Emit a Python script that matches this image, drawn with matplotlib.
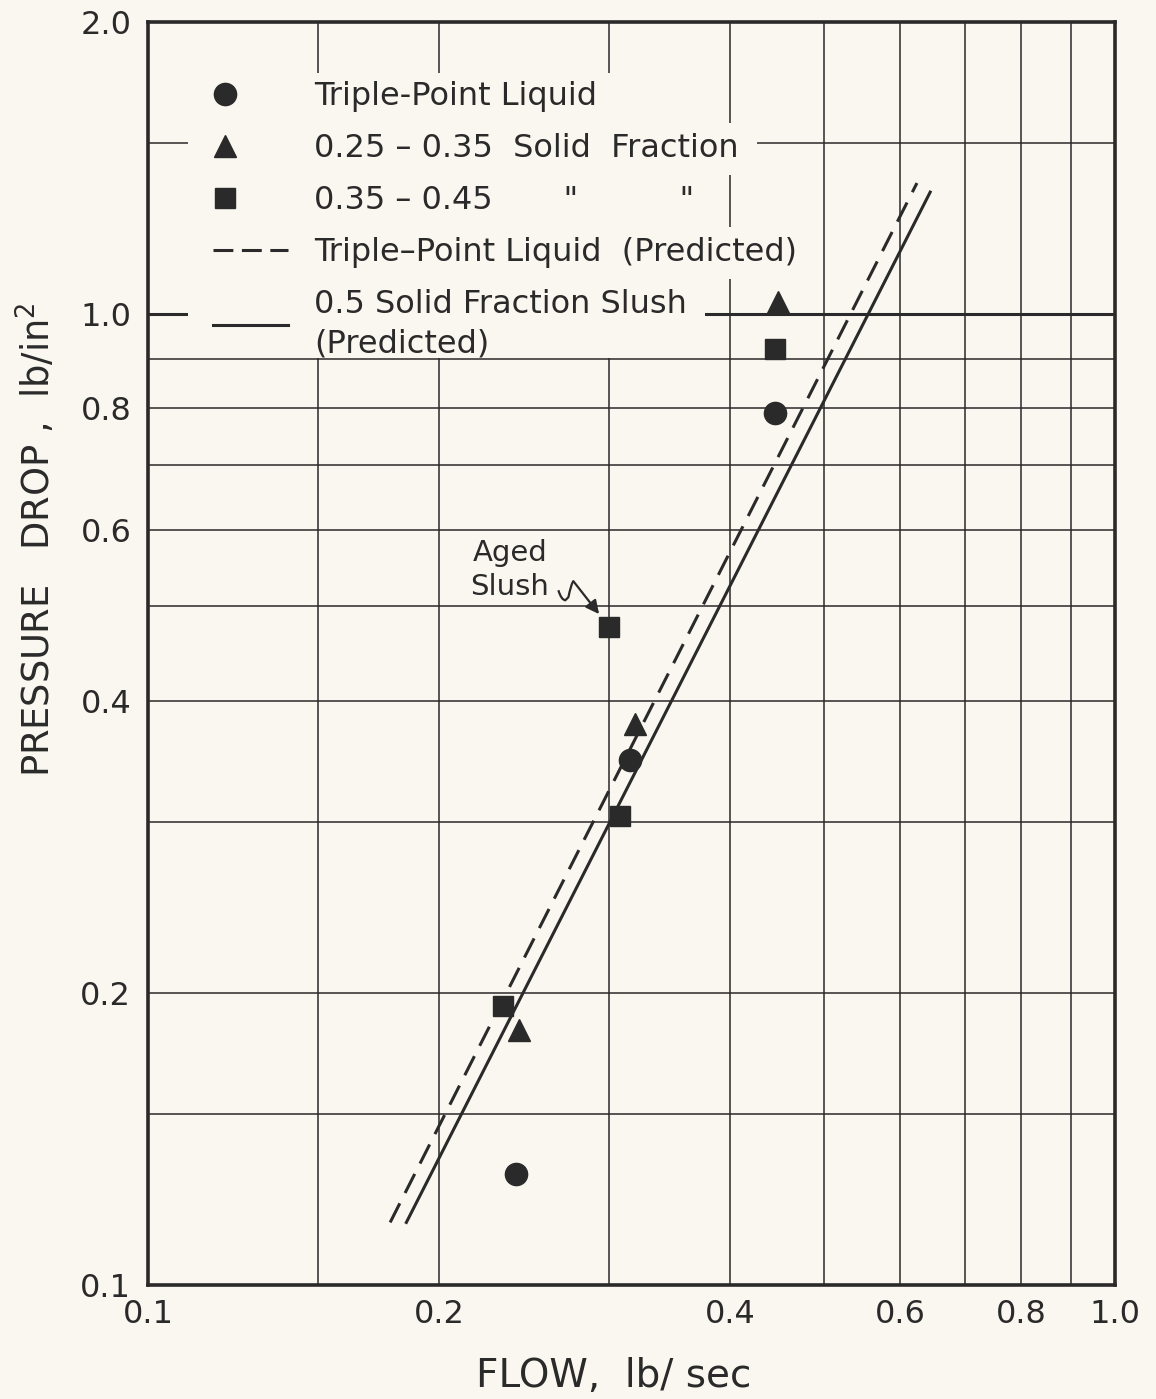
import matplotlib
matplotlib.use("Agg")
import matplotlib.pyplot as plt
from matplotlib.lines import Line2D
from matplotlib.patches import Rectangle, PathPatch
from matplotlib.path import Path
from matplotlib.transforms import IdentityTransform, Affine2D
from matplotlib.legend_handler import HandlerLine2D
from matplotlib.ticker import FixedLocator, FixedFormatter, NullLocator

plt.rcParams['font.family'] = ['DejaVu Sans']

INK = '#2a2a2a'
PAPER = '#f9f7ef'

# Measured points: flow (lb/sec) and pressure drop (lb/in^2)
tpl_flow = [0.240, 0.315, 0.445]
tpl_dp = [0.130, 0.347, 0.791]
sf25_flow = [0.242, 0.319, 0.448]
sf25_dp = [0.183, 0.378, 1.03]
sf35_flow = [0.233, 0.308, 0.300, 0.445]
sf35_dp = [0.194, 0.304, 0.476, 0.921]

# Predicted curves (straight lines on log-log paper, end points)
tpl_pred_flow = [0.178, 0.624]
tpl_pred_dp = [0.116, 1.365]
slush_pred_flow = [0.185, 0.644]
slush_pred_dp = [0.116, 1.336]

# Aged slush point called out separately
aged_flow = 0.300
aged_dp = 0.476

x_grid = [0.15, 0.2, 0.3, 0.4, 0.5, 0.6, 0.7, 0.8, 0.9]
y_grid = [0.15, 0.2, 0.3, 0.4, 0.5, 0.6, 0.7, 0.8, 0.9, 1.5]
y_major = 1.0
x_ticks = [0.1, 0.2, 0.4, 0.6, 0.8, 1.0]
x_tick_labels = ['0.1', '0.2', '0.4', '0.6', '0.8', '1.0']
y_ticks = [0.1, 0.2, 0.4, 0.6, 0.8, 1.0, 2.0]
y_tick_labels = ['0.1', '0.2', '0.4', '0.6', '0.8', '1.0', '2.0']

legend_labels = [
    'Triple-Point Liquid',
    '0.25 \u2013 0.35  Solid  Fraction',
    '0.35 \u2013 0.45       "          "',
    'Triple\u2013Point Liquid  (Predicted)',
    '0.5 Solid Fraction Slush\n(Predicted)',
]

fig = plt.figure(figsize=(11.56, 13.99), dpi=100, facecolor=PAPER)
ax = fig.add_axes([148 / 1156, 1 - 1285 / 1399, (1115 - 148) / 1156, (1285 - 22) / 1399])
ax.set_facecolor(PAPER)
ax.set_xscale('log')
ax.set_yscale('log')
ax.set_xlim(0.1, 1.0)
ax.set_ylim(0.1, 2.0)

# grid
for xv in x_grid:
    ax.axvline(xv, color=INK, lw=1.1, zorder=1)
for yv in y_grid:
    ax.axhline(yv, color=INK, lw=1.1, zorder=1)
ax.axhline(y_major, color=INK, lw=2.2, zorder=1)

# predicted lines
ax.plot(tpl_pred_flow, tpl_pred_dp, color=INK, lw=2.2, ls=(0, (7.0, 3.8)), zorder=3)
ax.plot(slush_pred_flow, slush_pred_dp, color=INK, lw=2.2, ls='-', zorder=3)

# measured points
ax.plot(tpl_flow, tpl_dp, 'o', color=INK, ms=16, mec=INK, ls='none', zorder=4)
ax.plot(sf25_flow, sf25_dp, '^', color=INK, ms=16, mec=INK, ls='none', zorder=4)
ax.plot(sf35_flow, sf35_dp, 's', color=INK, ms=15, mec=INK, ls='none', zorder=4)

# "Aged Slush" call-out: label, wavy lead-in and arrow to the point
ax.text(0.2368, 0.545, 'Aged\nSlush', ha='center', va='center', fontsize=21,
        color=INK, linespacing=1.25, zorder=5)
ax.annotate('', xy=(aged_flow, aged_dp), xytext=(-36, 46), textcoords='offset pixels',
            arrowprops=dict(arrowstyle='-|>', color=INK, lw=1.6, mutation_scale=20,
                            shrinkA=0, shrinkB=12),
            zorder=5)
px, py = ax.transData.transform((aged_flow, aged_dp))
wave = Path([(-51, 37), (-48, 27), (-44, 27), (-41, 30), (-38, 44), (-36, 46)],
            [Path.MOVETO, Path.CURVE3, Path.CURVE3, Path.LINETO, Path.CURVE3, Path.CURVE3])
ax.add_patch(PathPatch(wave, transform=Affine2D().translate(px, py), facecolor='none',
                       edgecolor=INK, lw=1.6, zorder=5))

# axes, ticks
for s in ax.spines.values():
    s.set_linewidth(2.6)
    s.set_color(INK)
ax.xaxis.set_major_locator(FixedLocator(x_ticks))
ax.xaxis.set_major_formatter(FixedFormatter(x_tick_labels))
ax.xaxis.set_minor_locator(NullLocator())
ax.yaxis.set_major_locator(FixedLocator(y_ticks))
ax.yaxis.set_major_formatter(FixedFormatter(y_tick_labels))
ax.yaxis.set_minor_locator(NullLocator())
ax.tick_params(axis='both', length=0, labelsize=23, labelcolor=INK)
ax.tick_params(axis='x', pad=10)
ax.tick_params(axis='y', pad=12)

ax.set_xlabel('FLOW,  lb/ sec', fontsize=28, color=INK)
ax.xaxis.set_label_coords(0.482, -0.057)
ax.set_ylabel('PRESSURE   DROP ,  lb/in$^{2}$', fontsize=26.5, color=INK)
ax.yaxis.set_label_coords(-0.092, 0.59)


class LeftMarker(HandlerLine2D):
    """Put a lone legend marker near the left of the handle box."""
    def create_artists(self, legend, orig_handle, xdescent, ydescent,
                       width, height, fontsize, trans):
        arts = super().create_artists(legend, orig_handle, xdescent, ydescent,
                                      width, height, fontsize, trans)
        for a in arts:
            xd = list(a.get_xdata())
            if len(xd) == 3:
                xd[1] = xd[0] + 0.16 * (xd[2] - xd[0])
                a.set_xdata(xd)
        return arts


handles = [
    Line2D([], [], marker='o', ls='none', color=INK, ms=16),
    Line2D([], [], marker='^', ls='none', color=INK, ms=16),
    Line2D([], [], marker='s', ls='none', color=INK, ms=15),
    Line2D([], [], ls=(0, (6.5, 2.8)), lw=2.2, color=INK),
    Line2D([], [], ls='-', lw=2.2, color=INK),
]
leg = ax.legend(handles, legend_labels, loc='upper left',
                bbox_to_anchor=((213 - 148) / 967, (1285 - 81) / 1263),
                frameon=False, fontsize=23, handlelength=2.36, handletextpad=0.8,
                labelspacing=0.66, borderpad=0, borderaxespad=0, numpoints=1,
                handler_map={h: LeftMarker() for h in handles[:3]})
leg.set_zorder(6)
for t in leg.get_texts():
    t.set_color(INK)
    t.set_linespacing(1.32)

# blank out the grid behind each legend row
fig.canvas.draw()
rend = fig.canvas.get_renderer()
boxes = [t.get_window_extent(rend) for t in leg.get_texts()]
left_px = ax.transAxes.transform((40 / 967, 0))[0]
n = len(boxes)
for i, bb in enumerate(boxes):
    top = bb.y1 + 8 if i == 0 else (boxes[i - 1].y0 + bb.y1) / 2
    bot = bb.y0 + 1 if i == n - 1 else (bb.y0 + boxes[i + 1].y1) / 2
    ax.add_patch(Rectangle((left_px, bot), bb.x1 + 18 - left_px, top - bot,
                           transform=IdentityTransform(), facecolor=PAPER,
                           edgecolor='none', zorder=2))

fig.savefig('out.png', dpi=100, facecolor=PAPER)
